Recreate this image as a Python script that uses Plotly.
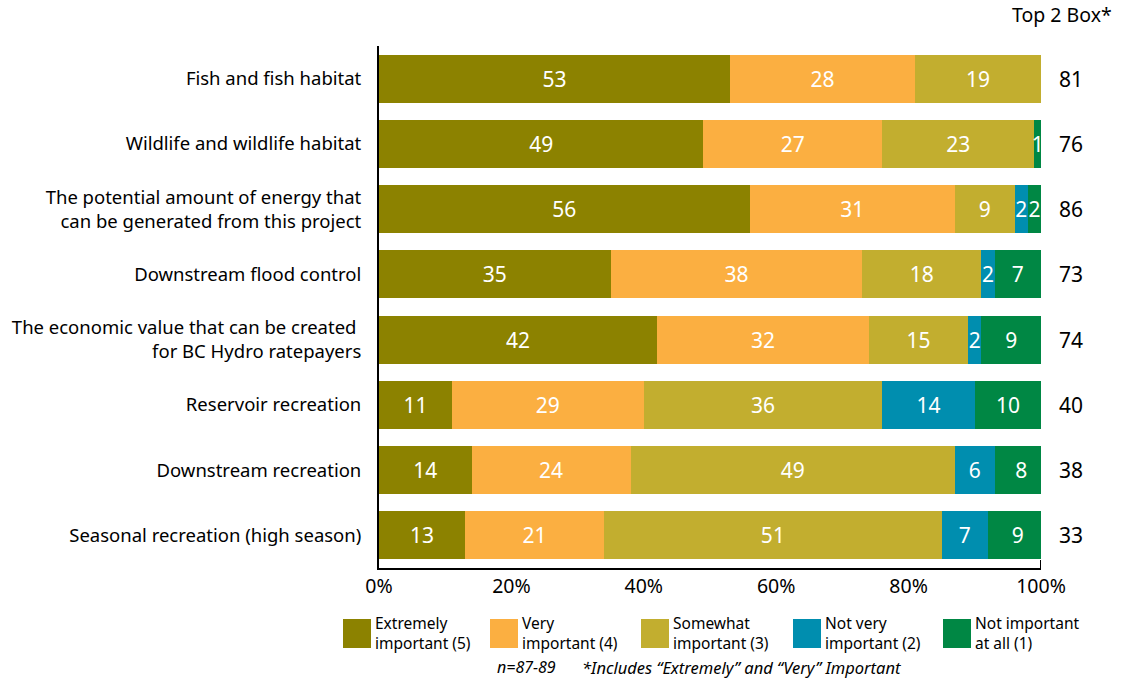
import plotly.graph_objects as go

# Survey items (top to bottom)
categories = [
    "Fish and fish habitat",
    "Wildlife and wildlife habitat",
    "The potential amount of energy that<br>can be generated from this project",
    "Downstream flood control",
    "The economic value that can be created <br>for BC Hydro ratepayers",
    "Reservoir recreation",
    "Downstream recreation",
    "Seasonal recreation (high season)",
]

# Percent of respondents per rating
extremely = [53, 49, 56, 35, 42, 11, 14, 13]
very = [28, 27, 31, 38, 32, 29, 24, 21]
somewhat = [19, 23, 9, 18, 15, 36, 49, 51]
not_very = [0, 0, 2, 2, 2, 14, 6, 7]
not_at_all = [0, 1, 2, 7, 9, 10, 8, 9]

top2_box = [81, 76, 86, 73, 74, 40, 38, 33]

series_names = [
    "Extremely<br>important (5)",
    "Very<br>important (4)",
    "Somewhat<br>important (3)",
    "Not very<br>important (2)",
    "Not important<br>at all (1)",
]
series_values = [extremely, very, somewhat, not_very, not_at_all]
colors = ["#8C8200", "#FBAF41", "#C2AE2F", "#008EAF", "#008744"]

tick_vals = [0, 20, 40, 60, 80, 100]
tick_text = ["0%", "20%", "40%", "60%", "80%", "100%"]

FONT = "Noto Sans"

fig = go.Figure()
for name, vals, col in zip(series_names, series_values, colors):
    fig.add_trace(go.Bar(
        y=categories,
        x=vals,
        orientation="h",
        name=name,
        marker=dict(color=col, line=dict(width=0)),
        text=[str(v) if v > 0 else "" for v in vals],
        textposition="inside",
        insidetextanchor="middle",
        textangle=0,
        constraintext="none",
        textfont=dict(color="white", size=21, family=FONT),
        showlegend=False,
        hoverinfo="x+y",
    ))

# Top 2 Box column
for cat, v in zip(categories, top2_box):
    fig.add_annotation(
        x=1.045, xref="paper", y=cat, yref="y",
        text=str(v), showarrow=False, xanchor="center",
        font=dict(size=21, color="black", family=FONT),
    )
fig.add_annotation(
    x=1.11, xref="paper", y=1.03, yref="paper",
    text="Top 2 Box*", showarrow=False, xanchor="right", yanchor="bottom",
    font=dict(size=19.5, color="black", family=FONT),
)

# Custom legend: colour blocks with two-line labels
legend_x = [343, 490, 641, 793, 943]
plot_l, plot_r = 379, 1041
plot_t, plot_b = 46, 568
pw = plot_r - plot_l
ph = plot_b - plot_t


def px_to_paper_x(px):
    return (px - plot_l) / pw


def px_to_paper_y(py):
    return (plot_b - py) / ph


for lx, name, col in zip(legend_x, series_names, colors):
    fig.add_shape(
        type="rect", xref="paper", yref="paper",
        x0=px_to_paper_x(lx), x1=px_to_paper_x(lx + 28),
        y0=px_to_paper_y(648), y1=px_to_paper_y(619),
        fillcolor=col, line=dict(width=0),
    )
    fig.add_annotation(
        x=px_to_paper_x(lx + 30), xref="paper",
        y=px_to_paper_y(633), yref="paper",
        text=name, showarrow=False, xanchor="left", yanchor="middle",
        align="left", font=dict(size=15.5, color="black", family=FONT),
    )

fig.add_annotation(
    x=px_to_paper_x(495), xref="paper", y=px_to_paper_y(667), yref="paper",
    text="<i>n=87-89</i>", showarrow=False, xanchor="left", yanchor="middle",
    font=dict(size=16, color="black", family=FONT),
)
fig.add_annotation(
    x=px_to_paper_x(580), xref="paper", y=px_to_paper_y(667), yref="paper",
    text="<i>*Includes \u201cExtremely\u201d and \u201cVery\u201d Important</i>",
    showarrow=False, xanchor="left", yanchor="middle",
    font=dict(size=16.5, color="black", family=FONT),
)

# Small end tick at 100%
fig.add_shape(
    type="line", xref="x", yref="paper", x0=100, x1=100,
    y0=0, y1=8 / ph, line=dict(color="black", width=2),
)

fig.update_layout(
    barmode="stack",
    bargap=0.265,
    width=1128, height=679,
    margin=dict(l=379, r=87, t=46, b=111),
    plot_bgcolor="white",
    paper_bgcolor="white",
    font=dict(family=FONT, color="black"),
    xaxis=dict(
        range=[0, 100], tickvals=tick_vals, ticktext=tick_text,
        showgrid=False, zeroline=False, showline=True,
        linecolor="black", linewidth=2, ticks="",
        tickfont=dict(size=19.5, family=FONT, color="black"),
        fixedrange=True,
    ),
    yaxis=dict(
        autorange="reversed", showgrid=False, zeroline=False,
        showline=True, linecolor="black", linewidth=2, ticks="",
        ticklabelstandoff=12,
        tickfont=dict(size=18.5, family=FONT, color="black"),
        fixedrange=True,
    ),
)

fig.write_html("out.html")
